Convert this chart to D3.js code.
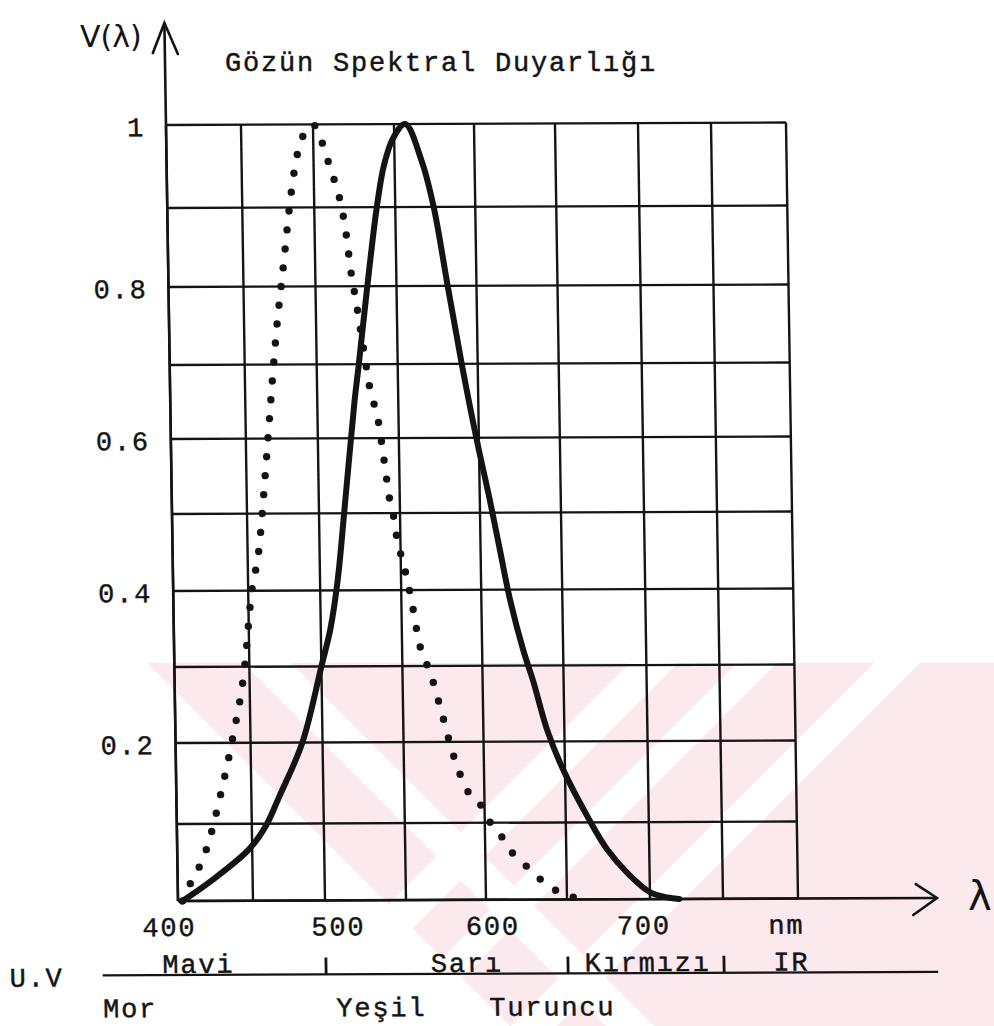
<!DOCTYPE html>
<html><head><meta charset="utf-8">
<script src="https://cdn.jsdelivr.net/npm/d3@7"></script>
<style>body{margin:0;background:#fff}</style>
</head><body>
<svg id="c" width="994" height="1026" xmlns="http://www.w3.org/2000/svg"></svg>
<script>
// ---------- data ----------
const lambdaGrid = [400, 450, 500, 550, 600, 650, 700, 750, 800];
const vGrid = [0, 0.1, 0.2, 0.3, 0.4, 0.5, 0.6, 0.7, 0.8, 0.9, 1];
const yTickValues = [1, 0.8, 0.6, 0.4, 0.2];
const yTickLabels = ["1", "0.8", "0.6", "0.4", "0.2"];
const xTickLabels = ["400", "500", "600", "700", "nm"];
const xTickAt = [394, 508, 604, 696, 792];

// photopic (solid) curve
const solidLambda = [403, 423, 448, 460, 469, 486, 500, 506, 511, 516, 523, 526, 532, 538.6, 543.5, 549.3, 557,
  567, 574, 582, 590, 598.4, 606.1, 611.9, 617.7, 625.3, 631.3, 639.4, 648.9, 662.9, 674.6, 688, 700, 712, 720];
const solidV = [0, 0.027, 0.067, 0.098, 0.132, 0.2, 0.3, 0.35, 0.415, 0.51, 0.65, 0.7, 0.8, 0.9, 0.951, 0.983, 1.0,
  0.955, 0.9, 0.8, 0.7, 0.6, 0.518, 0.452, 0.387, 0.321, 0.279, 0.215, 0.165, 0.108, 0.065, 0.031, 0.009, 0.002, 0];

// scotopic (dotted) curve
const dotLambda = [403, 410, 417, 421, 430, 438, 447, 452, 458, 463, 468, 472, 478.5, 484, 490, 500,
  505.5, 510.4, 515.7, 519.4, 521.8, 525, 529, 532.4, 537.7, 540.6, 543.6, 546.3, 548, 551.4, 556.6, 560.4,
  568, 574.3, 580.8, 590.5, 598.7, 604, 610.6, 616.3, 623.4, 630.6, 637, 643, 650, 657, 664];
const dotV = [0, 0.029, 0.054, 0.076, 0.14, 0.205, 0.302, 0.393, 0.455, 0.55, 0.657, 0.736, 0.835, 0.916, 0.972, 1.0,
  0.978, 0.946, 0.911, 0.867, 0.822, 0.779, 0.72, 0.67, 0.62, 0.572, 0.52, 0.492, 0.465, 0.437, 0.383, 0.334,
  0.287, 0.237, 0.185, 0.136, 0.119, 0.098, 0.081, 0.062, 0.047, 0.033, 0.02, 0.012, 0.005, 0.002, 0.002];

const bandUpperLabels = ["Mavi", "Sarı", "Kırmızı", "IR"];
const bandUpperAt = [389, 565, 660, 783];
const bandLowerLabels = ["Mor", "Yeşil", "Turuncu"];
const bandLowerAt = [349, 506, 601];
const bandEdgeLabel = "U.V";
const bandEdgeAt = 287;
const bandMarks = [500, 650, 750];
const title = "Gözün Spektral Duyarlığı";
const yAxisLabel = "V(λ)";
const xAxisLabel = "λ";

// ---------- drawing ----------
const svg = d3.select("#c");
const W = 994, H = 1026;
svg.append("rect").attr("width", W).attr("height", H).attr("fill", "#fff");

// faint scan watermark (pink band with white diagonal stripes)
const wm = svg.append("g");
const wmTop = 663;
wm.append("rect").attr("x", 0).attr("y", wmTop).attr("width", W).attr("height", H - wmTop).attr("fill", "#fce9ee");
const stripes = [
  {x0: -400, w: 547, dir: 1},
  {x0: 243, w: 48, dir: 1},
  {x0: 630, w: 48, dir: -1},
  {x0: 737, w: 40, dir: -1},
  {x0: 874, w: 46, dir: -1}
];
stripes.forEach(s => {
  const h = H - wmTop;
  const pts = [[s.x0, wmTop], [s.x0 + s.w, wmTop], [s.x0 + s.w + s.dir * h, H], [s.x0 + s.dir * h, H]];
  wm.append("polygon").attr("points", pts.map(p => p.join(",")).join(" ")).attr("fill", "#fff");
});

const x = d3.scaleLinear().domain(lambdaGrid).range([0, 75, 147, 228, 308, 389, 472, 545, 620]);
const y = d3.scaleLinear().domain(vGrid).range([0, -77, -158, -234, -310, -387, -462, -536, -614, -693, -776]);

const ink = "#141414";
const mono = "'Liberation Mono', 'DejaVu Sans Mono', monospace";
const typed = sel => sel.attr("font-family", mono).attr("font-size", 27).attr("letter-spacing", 1.8)
  .attr("fill", ink).attr("stroke", ink).attr("stroke-width", 0.45);

// plot group: slightly skewed like the scanned page
const g = svg.append("g").attr("transform", "matrix(1,-0.004,0.0155,1,178,901)");

// grid
g.append("g").selectAll("line").data(lambdaGrid).join("line")
  .attr("x1", d => x(d)).attr("x2", d => x(d))
  .attr("y1", y(0)).attr("y2", y(1))
  .attr("stroke", ink).attr("stroke-width", 2.4);
g.append("g").selectAll("line").data(vGrid).join("line")
  .attr("x1", x(400)).attr("x2", x(800))
  .attr("y1", d => y(d)).attr("y2", d => y(d))
  .attr("stroke", ink).attr("stroke-width", 2.4);

// y axis with arrow
const yTip = y(1) - 102;
g.append("line").attr("x1", x(400)).attr("x2", x(400)).attr("y1", y(0)).attr("y2", yTip)
  .attr("stroke", ink).attr("stroke-width", 2.6);
g.append("path").attr("d", `M${x(400) - 12},${yTip + 30} L${x(400)},${yTip} L${x(400) + 13},${yTip + 31}`)
  .attr("fill", "none").attr("stroke", ink).attr("stroke-width", 2.6).attr("stroke-linecap", "round");

// x axis with arrow
const xTip = x(800) + 139;
g.append("line").attr("x1", x(400)).attr("x2", xTip).attr("y1", y(0)).attr("y2", y(0))
  .attr("stroke", ink).attr("stroke-width", 2.6);
g.append("path").attr("d", `M${xTip - 21},${y(0) - 14} L${xTip},${y(0)} L${xTip - 24},${y(0) + 17}`)
  .attr("fill", "none").attr("stroke", ink).attr("stroke-width", 2.6).attr("stroke-linecap", "round");

// curves
const solidData = solidLambda.map((l, i) => [l, solidV[i]]);
const dotData = dotLambda.map((l, i) => [l, dotV[i]]);
const dotLine = d3.line().x(d => x(d[0])).y(d => y(d[1])).curve(d3.curveMonotoneX);
const solidLine = d3.line().x(d => x(d[0])).y(d => y(d[1])).curve(d3.curveCatmullRom.alpha(0.5));

g.append("path").attr("d", dotLine(dotData)).attr("fill", "none")
  .attr("stroke", ink).attr("stroke-width", 7.4).attr("stroke-linecap", "round")
  .attr("stroke-dasharray", "0 19");
g.append("path").attr("d", solidLine(solidData)).attr("fill", "none")
  .attr("stroke", ink).attr("stroke-width", 6).attr("stroke-linejoin", "round").attr("stroke-linecap", "round");

// y tick labels
g.append("g").selectAll("text").data(yTickValues).join("text")
  .attr("x", -21).attr("y", d => y(d) + 11)
  .attr("text-anchor", "end")
  .call(typed)
  .text((d, i) => yTickLabels[i]);

// x tick labels
g.append("g").selectAll("text").data(xTickAt).join("text")
  .attr("x", d => x(d)).attr("y", 35)
  .attr("text-anchor", "middle")
  .call(typed)
  .text((d, i) => xTickLabels[i]);

// colour band line
const bandY = 74;
g.append("line").attr("x1", x(bandLowerAt[0])).attr("x2", xTip).attr("y1", bandY).attr("y2", bandY)
  .attr("stroke", ink).attr("stroke-width", 2.2);
g.append("g").selectAll("line").data(bandMarks).join("line")
  .attr("x1", d => x(d)).attr("x2", d => x(d)).attr("y1", bandY).attr("y2", bandY - 17)
  .attr("stroke", ink).attr("stroke-width", 2.8);
g.append("g").selectAll("text").data(bandUpperAt).join("text")
  .attr("x", d => x(d)).attr("y", bandY - 2)
  .call(typed)
  .text((d, i) => bandUpperLabels[i]);
g.append("g").selectAll("text").data(bandLowerAt).join("text")
  .attr("x", d => x(d)).attr("y", bandY + 42)
  .call(typed)
  .text((d, i) => bandLowerLabels[i]);
g.append("text").attr("x", x(bandEdgeAt)).attr("y", bandY + 11)
  .call(typed)
  .text(bandEdgeLabel);

// title and axis names
svg.append("text").attr("x", 225).attr("y", 71)
  .call(typed)
  .text(title);
svg.append("text").attr("x", 80).attr("y", 47)
  .attr("font-family", "'DejaVu Sans', sans-serif").attr("font-size", 30).attr("fill", ink)
  .text(yAxisLabel);
svg.append("text").attr("x", 968).attr("y", 910)
  .attr("font-family", "'DejaVu Sans', sans-serif").attr("font-size", 40).attr("fill", ink)
  .text(xAxisLabel);
</script>
</body></html>
